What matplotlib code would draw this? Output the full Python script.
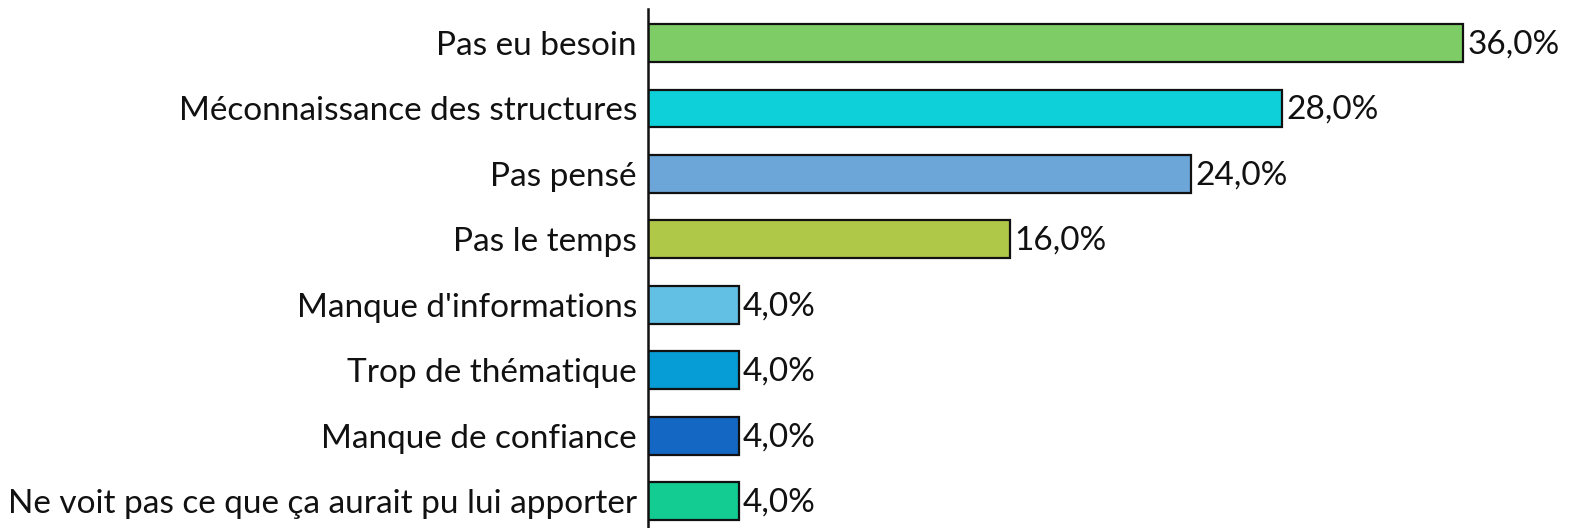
import matplotlib
matplotlib.use("Agg")
import matplotlib.pyplot as plt

categories = [
    "Pas eu besoin",
    "Méconnaissance des structures",
    "Pas pensé",
    "Pas le temps",
    "Manque d'informations",
    "Trop de thématique",
    "Manque de confiance",
    "Ne voit pas ce que ça aurait pu lui apporter",
]
values = [36.0, 28.0, 24.0, 16.0, 4.0, 4.0, 4.0, 4.0]
colors = ["#7dcc66", "#0dd0d8", "#6ca6d8", "#b0c848",
          "#62c0e4", "#069cd6", "#1468c4", "#12cc92"]

plt.rcParams["font.family"] = ["Lato", "DejaVu Sans"]

W, H = 1577, 528
fig = plt.figure(figsize=(W / 100, H / 100), dpi=100)
ax_left = 648 / W
ax = fig.add_axes([ax_left, 0, 1 - ax_left, 519 / H])

ypos = list(range(len(categories)))
ax.barh(ypos, values, height=0.58, color=colors, edgecolor="#111111", linewidth=1.6)
ax.set_xlim(0, 929 / 22.64)
ax.set_ylim(len(categories) - 1 + 0.41, -0.52)

fs = 24
ax.set_yticks(ypos)
ax.set_yticklabels(categories, fontsize=fs, color="#111111")
ax.tick_params(axis="y", length=0, pad=8)
ax.set_xticks([])
for s in ["top", "right", "bottom"]:
    ax.spines[s].set_visible(False)
ax.spines["left"].set_linewidth(1.8)
ax.spines["left"].set_color("#111111")

for y, v in zip(ypos, values):
    ax.annotate(f"{v:.1f}%".replace(".", ","), xy=(v, y), xytext=(3, -1),
                textcoords="offset points", va="center", ha="left",
                fontsize=fs, color="#111111")

fig.savefig("out.png", dpi=100)
